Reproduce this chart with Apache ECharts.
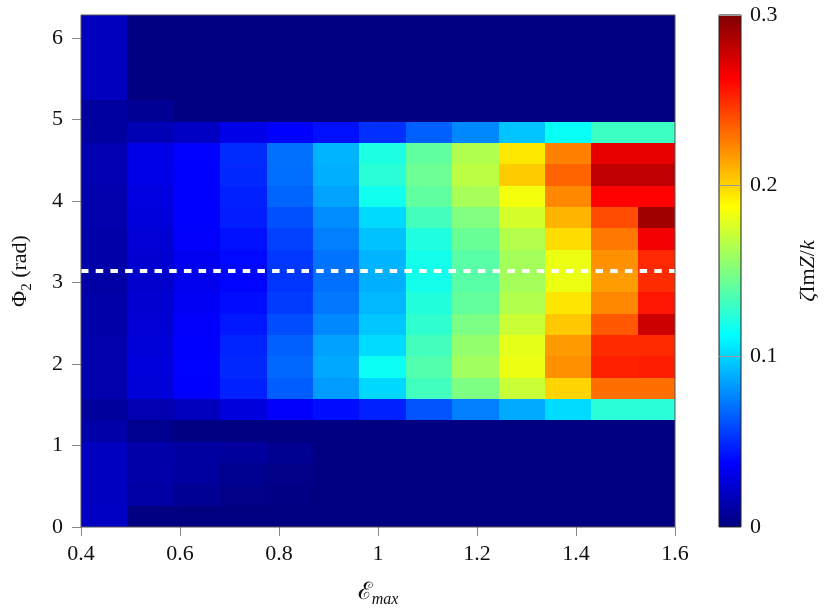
<!DOCTYPE html>
<html><head><meta charset="utf-8">
<script src="https://cdn.jsdelivr.net/npm/echarts@6/dist/echarts.min.js"></script>
<style>html,body{margin:0;padding:0;background:#fff}#c{width:831px;height:608px}</style>
</head><body><div id="c"></div>
<script>
// ---- data ----
const X_EDGES = [0.4, 0.49375, 0.5875, 0.68125, 0.775, 0.86875, 0.9625, 1.05625, 1.15, 1.24375, 1.3375, 1.43125, 1.525, 1.6];
const Y_EDGES = [0, 0.2618, 0.5236, 0.7854, 1.0472, 1.3090, 1.5708, 1.8326, 2.0944, 2.3562, 2.6180, 2.8798, 3.1416,
                 3.4034, 3.6652, 3.9270, 4.1888, 4.4506, 4.7124, 4.9742, 5.2360, 5.4978, 5.7596, 6.0214, 6.2832];
const X_TICKS = [0.4, 0.6, 0.8, 1.0, 1.2, 1.4, 1.6];
const Y_TICKS = [0, 1, 2, 3, 4, 5, 6];
const CB_TICKS = [0, 0.1, 0.2, 0.3];
const CB_RANGE = [0, 0.3];
const DASH_Y = 3.14159;
// rows of zeta*ImZ/k, bottom (Phi2 = 0) to top, one value per E_max column
const ROW_00 = [0.020, 0, 0, 0, 0, 0, 0, 0, 0, 0, 0, 0, 0];
const ROW_01 = [0.019, 0.0106, 0.006, 0.0024, 0.0012, 0, 0, 0, 0, 0, 0, 0, 0];
const ROW_02 = [0.019, 0.0118, 0.009, 0.0047, 0.0024, 0, 0, 0, 0, 0, 0, 0, 0];
const ROW_03 = [0.019, 0.0118, 0.0094, 0.0083, 0.0047, 0, 0, 0, 0, 0, 0, 0, 0];
const ROW_04 = [0.0118, 0.0047, 0.001, 0.001, 0, 0, 0, 0, 0, 0, 0, 0, 0];
const ROW_05 = [0.0083, 0.0142, 0.0177, 0.0272, 0.0366, 0.041, 0.0469, 0.062, 0.0751, 0.0875, 0.1022, 0.1243, 0.1243];
const ROW_06 = [0.013, 0.026, 0.0375, 0.0469, 0.0646, 0.0834, 0.101, 0.1313, 0.149, 0.1713, 0.2001, 0.230, 0.230];
const ROW_07 = [0.013, 0.0272, 0.038, 0.0493, 0.0681, 0.0869, 0.116, 0.1366, 0.1596, 0.1819, 0.2202, 0.2531, 0.2543];
const ROW_08 = [0.013, 0.026, 0.0375, 0.0481, 0.0657, 0.0846, 0.1022, 0.132, 0.156, 0.1801, 0.2172, 0.250, 0.250];
const ROW_09 = [0.0118, 0.0248, 0.0366, 0.0446, 0.0598, 0.0775, 0.0963, 0.126, 0.1484, 0.1719, 0.2037, 0.2366, 0.2776];
const ROW_10 = [0.0118, 0.0236, 0.0343, 0.041, 0.0551, 0.0728, 0.0916, 0.1225, 0.1413, 0.1649, 0.195, 0.223, 0.256];
const ROW_11 = [0.0106, 0.0224, 0.0319, 0.0387, 0.0528, 0.0704, 0.0893, 0.1184, 0.1384, 0.1607, 0.1819, 0.2166, 0.2496];
const ROW_12 = [0.0118, 0.0236, 0.0331, 0.0399, 0.054, 0.0716, 0.0904, 0.1184, 0.1384, 0.1607, 0.1819, 0.2202, 0.2507];
const ROW_13 = [0.0118, 0.0248, 0.0366, 0.0422, 0.0563, 0.0751, 0.0945, 0.1219, 0.1431, 0.1654, 0.1978, 0.2272, 0.266];
const ROW_14 = [0.013, 0.0272, 0.0375, 0.0457, 0.061, 0.0787, 0.1016, 0.1325, 0.1501, 0.1749, 0.2096, 0.2401, 0.2905];
const ROW_15 = [0.013, 0.0283, 0.0375, 0.0469, 0.0669, 0.0857, 0.1172, 0.1407, 0.1619, 0.1842, 0.2225, 0.262, 0.262];
const ROW_16 = [0.0142, 0.0307, 0.0375, 0.0493, 0.070, 0.0893, 0.1243, 0.1443, 0.1678, 0.2025, 0.2331, 0.2811, 0.2811];
const ROW_17 = [0.0142, 0.0307, 0.0378, 0.050, 0.0704, 0.0904, 0.1207, 0.1407, 0.1643, 0.1943, 0.2248, 0.2693, 0.2693];
const ROW_18 = [0.0094, 0.0154, 0.0201, 0.0307, 0.0375, 0.0422, 0.0516, 0.0657, 0.0775, 0.0951, 0.1149, 0.1301, 0.1301];
const ROW_19 = [0.009, 0.0059, 0, 0, 0, 0, 0, 0, 0, 0, 0, 0, 0];
const ROW_20 = [0.018, 0, 0, 0, 0, 0, 0, 0, 0, 0, 0, 0, 0];
const ROW_21 = [0.018, 0, 0, 0, 0, 0, 0, 0, 0, 0, 0, 0, 0];
const ROW_22 = [0.018, 0, 0, 0, 0, 0, 0, 0, 0, 0, 0, 0, 0];
const ROW_23 = [0.018, 0, 0, 0, 0, 0, 0, 0, 0, 0, 0, 0, 0];
const ROWS = [ROW_00, ROW_01, ROW_02, ROW_03, ROW_04, ROW_05, ROW_06, ROW_07, ROW_08, ROW_09, ROW_10, ROW_11,
              ROW_12, ROW_13, ROW_14, ROW_15, ROW_16, ROW_17, ROW_18, ROW_19, ROW_20, ROW_21, ROW_22, ROW_23];
// jet colormap, evenly spaced stops
const JET = ['#000080', '#0000ff', '#0080ff', '#00ffff', '#80ff80', '#ffff00', '#ff8000', '#ff0000', '#800000'];

// ---- build ----
const cells = [];
ROWS.forEach((row, j) => {
  row.forEach((v, i) => {
    cells.push([X_EDGES[i], X_EDGES[i + 1], Y_EDGES[j], Y_EDGES[j + 1], v]);
  });
});

const F = "'Liberation Serif', 'DejaVu Serif', serif";
const FS = 22;
const chart = echarts.init(document.getElementById('c'), null, {renderer: 'canvas'});

function rectFrom(api) {
  const p0 = api.coord([api.value(0), api.value(3)]);
  const p1 = api.coord([api.value(1), api.value(2)]);
  const x0 = Math.round(p0[0]), y0 = Math.round(p0[1]);
  const x1 = Math.round(p1[0]), y1 = Math.round(p1[1]);
  return {x: x0, y: y0, width: x1 - x0, height: y1 - y0};
}

chart.setOption({
  animation: false,
  backgroundColor: '#fff',
  grid: [
    {left: 81, right: 156, top: 15, bottom: 81, containLabel: false, outerBoundsMode: 'none',
     show: true, z: 10, borderColor: '#555', borderWidth: 1, backgroundColor: 'transparent'},
    {left: 719, width: 22, top: 15, bottom: 81, containLabel: false, outerBoundsMode: 'none',
     show: true, z: 10, borderColor: '#222', borderWidth: 1, backgroundColor: 'transparent'}
  ],
  visualMap: {
    type: 'continuous', show: false, seriesIndex: 0, dimension: 4,
    min: CB_RANGE[0], max: CB_RANGE[1], inRange: {color: JET}
  },
  xAxis: [
    {
      gridIndex: 0, type: 'value', min: X_TICKS[0], max: X_TICKS[X_TICKS.length - 1], interval: 0.2,
      axisLine: {show: false},
      axisTick: {show: true, length: 9, lineStyle: {color: '#888', width: 1}},
      axisLabel: {margin: 16, fontSize: FS, fontFamily: F, color: '#111'},
      splitLine: {show: false},
      name: '{e|ℰ}{s|max}', nameLocation: 'middle', nameGap: 51,
      nameTextStyle: {rich: {
        e: {fontSize: 24, fontFamily: F, lineHeight: 30, color: '#111'},
        s: {fontSize: 16, fontFamily: F, fontStyle: 'italic', lineHeight: 16, verticalAlign: 'bottom', color: '#111'}
      }}
    },
    {gridIndex: 1, type: 'value', min: 0, max: 1, show: false}
  ],
  yAxis: [
    {
      gridIndex: 0, type: 'value', min: Y_EDGES[0], max: Y_EDGES[Y_EDGES.length - 1], interval: 1,
      axisLine: {show: false},
      axisTick: {show: true, length: 9, lineStyle: {color: '#888', width: 1}, customValues: Y_TICKS},
      axisLabel: {margin: 18, fontSize: FS, fontFamily: F, color: '#111', customValues: Y_TICKS},
      splitLine: {show: false},
      name: '{a|Φ}{s|2}{a| (rad)}', nameLocation: 'middle', nameGap: 46,
      nameTextStyle: {rich: {
        a: {fontSize: 22, fontFamily: F, lineHeight: 30, color: '#111'},
        s: {fontSize: 15, fontFamily: F, lineHeight: 15, verticalAlign: 'bottom', color: '#111'}
      }}
    },
    {
      gridIndex: 1, type: 'value', min: CB_RANGE[0], max: CB_RANGE[1], interval: 0.1, position: 'right', z: 10,
      axisLine: {show: false},
      axisTick: {show: false},
      axisLabel: {margin: 9, fontSize: FS, fontFamily: F, color: '#111', customValues: CB_TICKS},
      splitLine: {show: true, lineStyle: {color: '#999', width: 1}},
      name: '{i|ζ}{a|Im}{i|Z}{a|/}{i|k}', nameLocation: 'middle', nameGap: 52, nameRotate: 90,
      nameTextStyle: {rich: {
        a: {fontSize: 22, fontFamily: F, lineHeight: 30, color: '#111'},
        i: {fontSize: 22, fontFamily: F, fontStyle: 'italic', lineHeight: 30, color: '#111'}
      }}
    }
  ],
  series: [
    {
      type: 'custom', xAxisIndex: 0, yAxisIndex: 0, data: cells, encode: {x: [0, 1], y: [2, 3]},
      renderItem: function (params, api) {
        return {type: 'rect', shape: rectFrom(api), style: {fill: api.visual('color')}};
      }
    },
    {
      type: 'line', xAxisIndex: 0, yAxisIndex: 0, z: 5, silent: true, symbol: 'none',
      data: [[X_TICKS[0], DASH_Y], [X_TICKS[X_TICKS.length - 1], DASH_Y]],
      lineStyle: {color: '#fff', width: 4, type: [7.5, 7.2]}
    },
    {
      type: 'custom', xAxisIndex: 1, yAxisIndex: 1, data: [[0, 1, CB_RANGE[0], CB_RANGE[1]]], encode: {x: [0, 1], y: [2, 3]},
      renderItem: function (params, api) {
        const stops = JET.map((c, i) => ({offset: i / (JET.length - 1), color: c}));
        return {type: 'rect', shape: rectFrom(api),
                style: {fill: new echarts.graphic.LinearGradient(0, 1, 0, 0, stops)}};
      }
    }
  ]
});
</script></body></html>
